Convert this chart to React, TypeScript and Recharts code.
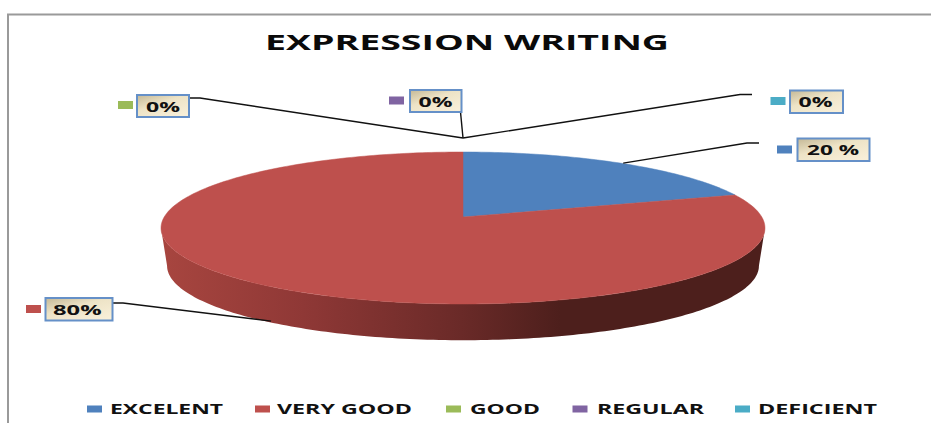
import React from "react";
import { PieChart, Pie, Legend } from "recharts";

// Survey result shown by the chart
const categories = ["EXCELENT", "VERY GOOD", "GOOD", "REGULAR", "DEFICIENT"];
const values = [20, 80, 0, 0, 0];
const valueLabels = ["20 %", "80%", "0%", "0%", "0%"];
const colors = ["#4F81BD", "#BE504D", "#9BBB59", "#8064A2", "#4BACC6"];

const rows = categories.map((name, i) => ({
  name,
  value: values[i],
  label: valueLabels[i],
  fill: colors[i],
}));

const W = 931;
const H = 423;
const CX = 463;
const CY = 217;
const R = 298.8;

// Perspective tilt of the disc: far edge is squeezed, near edge is stretched
const TILT_Y = 0.249;
const TILT_K = 0.1447;
const BASE_SCALE = 0.98;
const BASE_CY = 255;

// Angle at which the projected rim reaches its widest point
const SILHOUETTE = 90 - (Math.acos(-TILT_K) * 180) / Math.PI;

const project = (cx: number, cy: number, r: number, angle: number) => {
  const t = ((90 - angle) * Math.PI) / 180;
  const u = Math.sin(t);
  const v = Math.cos(t);
  const d = 1 + TILT_K * v;
  return { x: cx + (r * u) / d, y: cy - (r * TILT_Y * v) / d };
};

const arcPoints = (cx: number, cy: number, r: number, from: number, to: number) => {
  const n = Math.max(2, Math.ceil(Math.abs(to - from)));
  const pts: { x: number; y: number }[] = [];
  for (let i = 0; i <= n; i++) {
    pts.push(project(cx, cy, r, from + ((to - from) * i) / n));
  }
  return pts;
};

const toPath = (pts: { x: number; y: number }[]) =>
  pts.map((p, i) => `${i ? "L" : "M"}${p.x.toFixed(2)} ${p.y.toFixed(2)}`).join(" ");

// Top face of a slice
const TopSlice = (props: any) => {
  const { cx, cy, outerRadius, startAngle, endAngle, fill } = props;
  if (Math.abs(endAngle - startAngle) < 0.01) return <g />;
  const pts = arcPoints(cx, cy, outerRadius, startAngle, endAngle);
  return <path d={`M${cx} ${cy} ${toPath(pts).replace("M", "L")} Z`} fill={fill} stroke={fill} strokeWidth={0.5} />;
};

// Near-side wall of a slice; only the front half of the disc shows a wall
const WallSlice = (props: any) => {
  const { cx, outerRadius, startAngle, endAngle } = props;
  const a = Math.min(startAngle, SILHOUETTE);
  const b = Math.max(endAngle, -180 - SILHOUETTE);
  if (a <= b) return <g />;
  const top = arcPoints(cx, CY, outerRadius, a, b);
  const bottom = arcPoints(cx, BASE_CY, outerRadius * BASE_SCALE, b, a);
  return <path d={`${toPath(top)} ${toPath(bottom).replace("M", "L")} Z`} fill="url(#wallShade)" />;
};

// Callout boxes, markers and elbows of the value labels
const callouts = [
  { box: [797.5, 138.5, 72, 22.5], marker: [777, 145.5], textX: 807, textW: 52, elbow: [[759, 143], [747, 143]], nudge: [3, 0] },
  { box: [45.5, 298, 67, 22.5], marker: [26, 305], textX: 53, textW: 48.5, elbow: [[112, 303], [123, 303]], nudge: [7, 36] },
  { box: [137, 95, 52, 22], marker: [118, 101], textX: 146, textW: 34, elbow: [[189, 98], [200, 98]], nudge: [0, -14] },
  { box: [410, 90, 51.5, 22], marker: [389, 96.5], textX: 418.5, textW: 34, elbow: [[460.5, 112]], nudge: [0, -14] },
  { box: [790, 90.5, 53, 22.5], marker: [770.5, 97], textX: 798.5, textW: 34, elbow: [[752, 94.5], [740, 94.5]], nudge: [0, -14] },
];

const renderCallout = (props: any) => {
  const { index, midAngle, cx, cy, outerRadius } = props;
  const c = callouts[index];
  const tip = project(cx, cy, outerRadius, midAngle);
  const [bx, by, bw, bh] = c.box;
  const line = [...c.elbow, [tip.x + c.nudge[0], tip.y + c.nudge[1]]].map((p) => p.join(" ")).join(" L");
  return (
    <g key={`callout-${index}`}>
      <path d={`M${line}`} fill="none" stroke="#111" strokeWidth={1.4} />
      <rect x={c.marker[0]} y={c.marker[1]} width={15} height={8} fill={colors[index]} />
      <rect x={bx} y={by} width={bw} height={bh} fill="url(#calloutFill)" stroke="#6590C8" strokeWidth={2} />
      <text
        x={c.textX}
        y={by + 16.5}
        fontFamily="'Open Sans', sans-serif"
        fontWeight={700}
        fontSize={14}
        fill="#111"
        textLength={c.textW}
        lengthAdjust="spacingAndGlyphs"
      >
        {rows[index].label}
      </text>
    </g>
  );
};

// Legend strip along the bottom edge
const LEGEND_TOP = 395;
const legendSlots = [
  { mark: 87, text: 110, width: 113 },
  { mark: 255, text: 277, width: 135 },
  { mark: 446, text: 470, width: 70 },
  { mark: 572.5, text: 597, width: 107 },
  { mark: 735, text: 758, width: 119 },
];

const renderLegend = (props: any) => {
  const seen = new Set<string>();
  const entries = (props.payload || []).filter((e: any) => {
    if (e.type === "none" || seen.has(e.value)) return false;
    seen.add(e.value);
    return true;
  });
  return (
    <svg width={W} height={26} style={{ display: "block" }}>
      {entries.map((entry: any, i: number) => (
        <g key={entry.value}>
          <rect x={legendSlots[i].mark} y={10.5} width={15} height={7} fill={colors[i]} />
          <text
            x={legendSlots[i].text}
            y={19}
            fontFamily="'Open Sans', sans-serif"
            fontWeight={700}
            fontSize={14.5}
            fill="#111"
            textLength={legendSlots[i].width}
            lengthAdjust="spacingAndGlyphs"
          >
            {entry.value}
          </text>
        </g>
      ))}
    </svg>
  );
};

export default function App() {
  return (
    <div style={{ position: "absolute", left: 0, top: 0, width: W, height: H, background: "#fff" }}>
      <PieChart width={W} height={H} margin={{ top: 0, right: 0, bottom: 0, left: 0 }}>
        <defs>
          <linearGradient id="wallShade" gradientUnits="userSpaceOnUse" x1={165} y1={0} x2={560} y2={0}>
            <stop offset="0" stopColor="#A7453F" />
            <stop offset="0.35" stopColor="#8F3836" />
            <stop offset="0.75" stopColor="#6A2A28" />
            <stop offset="1" stopColor="#4D1F1C" />
          </linearGradient>
          <linearGradient id="calloutFill" x1="0" y1="0" x2="0.8" y2="1">
            <stop offset="0" stopColor="#C4B896" />
            <stop offset="0.45" stopColor="#EDE3C6" />
            <stop offset="1" stopColor="#F8EFD8" />
          </linearGradient>
        </defs>
        <path d={`M8 ${H} L8 14.5 L${W} 14.5`} fill="none" stroke="#9A9A9A" strokeWidth={2} />
        <text
          x={265}
          y={50}
          fontFamily="'Open Sans', sans-serif"
          fontWeight={700}
          fontSize={21.5}
          fill="#0A0A0A"
          textLength={404}
          lengthAdjust="spacingAndGlyphs"
        >
          EXPRESSION WRITING
        </text>
        <Pie
          data={rows}
          dataKey="value"
          nameKey="name"
          cx={CX}
          cy={CY}
          outerRadius={R}
          startAngle={90}
          endAngle={-270}
          legendType="none"
          isAnimationActive={false}
          shape={WallSlice}
        />
        <Pie
          data={rows}
          dataKey="value"
          nameKey="name"
          cx={CX}
          cy={CY}
          outerRadius={R}
          startAngle={90}
          endAngle={-270}
          isAnimationActive={false}
          shape={TopSlice}
          label={renderCallout}
          labelLine={false}
        />
        <Legend
          content={renderLegend}
          itemSorter={null}
          wrapperStyle={{ left: 0, top: LEGEND_TOP, width: W, height: 26 }}
        />
      </PieChart>
    </div>
  );
}
